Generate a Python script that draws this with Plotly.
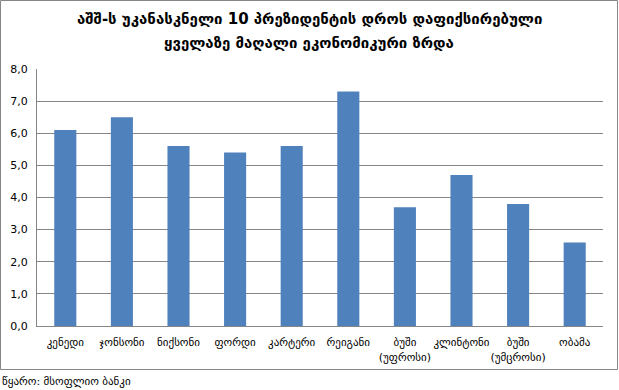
import plotly.graph_objects as go

categories = ["კენედი", "ჯონსონი", "ნიქსონი", "ფორდი", "კარტერი", "რეიგანი",
              "ბუში<br>(უფროსი)", "კლინტონი", "ბუში<br>(უმცროსი)", "ობამა"]
growth = [6.1, 6.5, 5.6, 5.4, 5.6, 7.3, 3.7, 4.7, 3.8, 2.6]
y_ticks = [0, 1, 2, 3, 4, 5, 6, 7, 8]

title_line1 = "აშშ-ს უკანასკნელი 10 პრეზიდენტის დროს დაფიქსირებული"
title_line2 = "ყველაზე მაღალი ეკონომიკური ზრდა"
source_text = "წყარო: მსოფლიო ბანკი"

W, H = 619, 390
L, R, T, B = 37, 16, 69, 64
pw, ph = W - L - R, H - T - B


def py(pix):
    return (H - B - pix) / ph


def px(pix):
    return (pix - L) / pw


fig = go.Figure(go.Bar(x=categories, y=growth, marker_color="#4F81BD",
                       marker_line_width=0, width=0.39))

font_family = "DejaVu Sans"
fig.update_layout(
    width=W, height=H,
    margin=dict(l=L, r=R, t=T, b=B, autoexpand=False),
    paper_bgcolor="white", plot_bgcolor="white",
    separators=", ",
    showlegend=False,
    font=dict(family=font_family, size=11, color="black"),
    xaxis=dict(showline=True, linecolor="#868686", linewidth=1, ticks="",
               tickfont=dict(size=11), fixedrange=True, automargin=False,
               tickangle=0, ticklabelstandoff=6),
    yaxis=dict(range=[0, 8], tickvals=y_ticks, tickformat=".1f",
               showgrid=True, gridcolor="#868686", gridwidth=1,
               showline=True, linecolor="#868686", linewidth=1,
               ticks="", ticklabelstandoff=6, tickfont=dict(size=11),
               zeroline=False, automargin=False, fixedrange=True),
    shapes=[dict(type="rect", xref="paper", yref="paper",
                 x0=px(0.5), x1=px(W - 1.5),
                 y0=py(369.5), y1=py(0.5),
                 line=dict(color="#868686", width=1), fillcolor="rgba(0,0,0,0)")],
    annotations=[
        dict(text="<b>" + title_line1 + "</b>", xref="paper", yref="paper",
             x=px(309), y=py(19), xanchor="center", yanchor="middle", showarrow=False,
             font=dict(family=font_family, size=15, color="black")),
        dict(text="<b>" + title_line2 + "</b>", xref="paper", yref="paper",
             x=px(309), y=py(43), xanchor="center", yanchor="middle", showarrow=False,
             font=dict(family=font_family, size=15, color="black")),
        dict(text=source_text, xref="paper", yref="paper",
             x=px(0), y=py(381), xanchor="left",
             yanchor="middle", showarrow=False,
             font=dict(family=font_family, size=11, color="black")),
    ],
)

fig.write_html("out.html", config={"displayModeBar": False},
               post_script="document.body.style.margin='0';")
